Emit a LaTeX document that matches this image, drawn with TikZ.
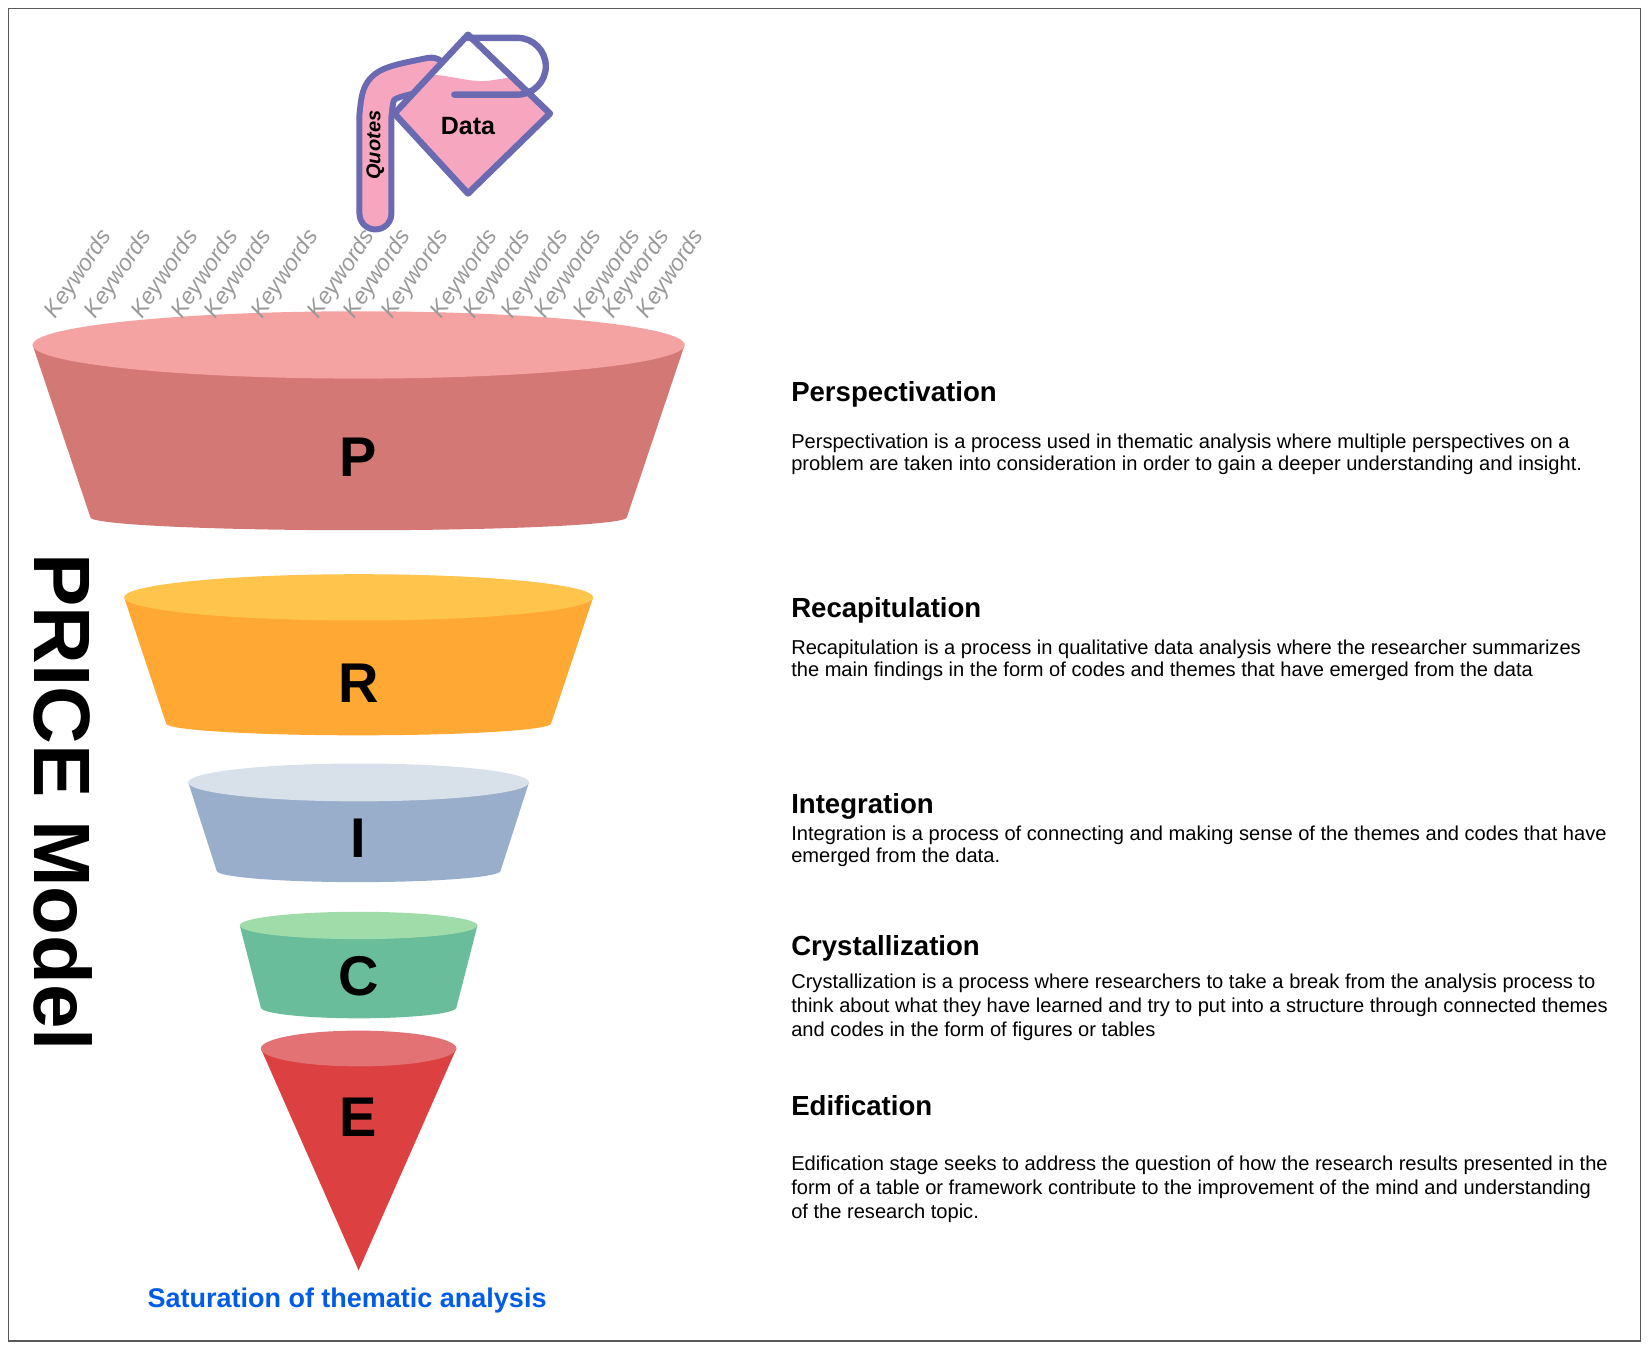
\documentclass[tikz,border=0pt]{standalone}
\usepackage{fontspec}
\setmainfont{Liberation Sans}
\begin{document}
\begin{tikzpicture}[x=0.526pt,y=-0.526pt,
  kw/.style={text=gray!80,font=\fontsize{11.5}{11.5}\selectfont\itshape,rotate=56,anchor=south west,inner sep=0pt},
  big/.style={font=\fontsize{28}{28}\selectfont\bfseries},
  head/.style={font=\fontsize{13.8}{14}\selectfont\bfseries,anchor=base west,inner sep=0pt},
  body/.style={font=\fontsize{10.05}{11}\selectfont,anchor=base west,inner sep=0pt}]
\definecolor{purp}{HTML}{6A6AB2}
\definecolor{pinkd}{HTML}{F7A6C0}
\useasboundingbox (0,0) rectangle (1568,1282);
\draw[gray!70!black,line width=0.8pt] (8,8) rectangle (1560,1275);
% funnel parts
\newcommand\funnelpart[8]{%
 \fill[#7] (#1-#3,#2) -- (#1-#5,#6) arc[start angle=180,end angle=0,x radius=#5,y radius=9+#4/10] -- (#1+#3,#2) -- cycle;
 \fill[#8] (#1,#2) ellipse[x radius=#3,y radius=#4];}
\definecolor{pb}{HTML}{D47876}\definecolor{pt}{HTML}{F4A2A2}
\definecolor{rb}{HTML}{FFA833}\definecolor{rt}{HTML}{FFC44C}
\definecolor{ib}{HTML}{98AECB}\definecolor{it}{HTML}{D8E0EA}
\definecolor{cb}{HTML}{6ABD9B}\definecolor{ct}{HTML}{A0DCA9}
\definecolor{eb}{HTML}{DC4040}\definecolor{et}{HTML}{E27274}
\funnelpart{341}{328}{310}{32}{255}{492}{pb}{pt}
\funnelpart{341}{568}{223}{22}{183}{688}{rb}{rt}
\funnelpart{341}{744}{162}{18}{135}{828}{ib}{it}
\funnelpart{341}{880}{113}{13}{93}{958}{cb}{ct}
\fill[eb] (248,997) -- (341,1208) -- (434,997) -- cycle;
\fill[et] (341,997) ellipse[x radius=93,y radius=17];
\node[big] (P) at (341,435) {P};
\node[big] (R) at (341,650) {R};
\node[big] (I) at (341,797) {I};
\node[big] (C) at (341,928) {C};
\node[big] (E) at (341,1062) {E};
\node[font=\fontsize{13.5}{14}\selectfont\bfseries,text=blue!60!cyan!90!black] (sat) at (330,1237) {Saturation of thematic analysis};
\node[font=\fontsize{40}{40}\selectfont\bfseries,rotate=-90] (price) at (60,763) {PRICE Model};
% keywords
\foreach \x [count=\i] in {45,83,127,165,197,241,295,329,365,412,443,479,511,548,575,608}
  \node[kw] (k\i) at (\x+12,307) {Keywords};
% pitcher
\draw[purp,line width=19pt,line cap=round,line join=round] (410,70) .. controls (360,80) .. (357,110) -- (357,203);
\draw[pinkd,line width=13pt,line cap=round,line join=round] (410,70) .. controls (360,80) .. (357,110) -- (357,203);
\node[rotate=90,font=\fontsize{10}{10}\selectfont\bfseries\itshape] (quotes) at (357,138) {Quotes};
\fill[white] (445,33) -- (523,108) -- (445,184) -- (375,108) -- cycle;
\begin{scope}
\clip (445,33) -- (523,108) -- (445,184) -- (375,108) -- cycle;
\fill[pinkd] (370,76) .. controls (420,62) and (440,82) .. (470,76) .. controls (495,72) .. (530,80) -- (530,190) -- (370,190) -- cycle;
\end{scope}
\draw[purp,line width=3.2pt,line join=round] (445,33) -- (523,108) -- (445,184) -- (375,108) -- cycle;
\draw[purp,line width=3.2pt,line cap=round] (445,36) -- (492,36) arc[start angle=-90,end angle=90,radius=27] -- (432,90);
\node[font=\fontsize{12.5}{12}\selectfont\bfseries] (data) at (445,120) {Data};
% right text
\node[head] (h1) at (752,382) {Perspectivation};
\node[body] (b1a) at (752,426) {Perspectivation is a process used in thematic analysis where multiple perspectives on a};
\node[body] (b1b) at (752,447) {problem are taken into consideration in order to gain a deeper understanding and insight.};
\node[head] (h2) at (752,587) {Recapitulation};
\node[body] (b2a) at (752,622) {Recapitulation is a process in qualitative data analysis where the researcher summarizes};
\node[body] (b2b) at (752,643) {the main findings in the form of codes and themes that have emerged from the data};
\node[head] (h3) at (752,774) {Integration};
\node[body] (b3a) at (752,799) {Integration is a process of connecting and making sense of the themes and codes that have};
\node[body] (b3b) at (752,820) {emerged from the data.};
\node[head] (h4) at (752,909) {Crystallization};
\node[body] (b4a) at (752,940) {Crystallization is a process where researchers to take a break from the analysis process to};
\node[body] (b4b) at (752,963) {think about what they have learned and try to put into a structure through connected themes};
\node[body] (b4c) at (752,986) {and codes in the form of figures or tables};
\node[head] (h5) at (752,1061) {Edification};
\node[body] (b5a) at (752,1113) {Edification stage seeks to address the question of how the research results presented in the};
\node[body] (b5b) at (752,1136) {form of a table or framework contribute to the improvement of the mind and understanding};
\node[body] (b5c) at (752,1159) {of the research topic.};
\end{tikzpicture}
\end{document}
